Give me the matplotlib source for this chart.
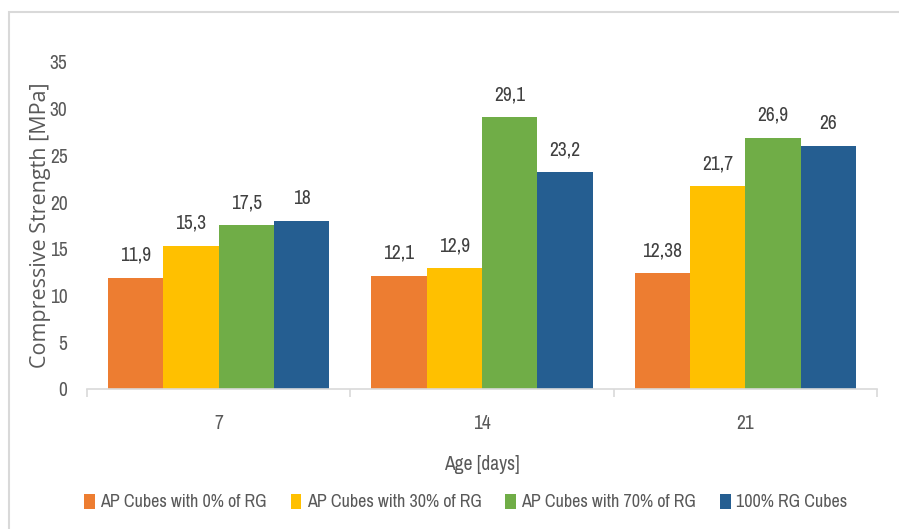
import matplotlib
matplotlib.use("Agg")
import matplotlib.pyplot as plt
import numpy as np
from matplotlib.patches import Rectangle
from matplotlib import font_manager

# prefer a narrow face for the chart text when one is installed
available = {f.name for f in font_manager.fontManager.ttflist}
narrow_faces = sorted(n for n in available
                      if "Narrow" in n or "Condensed" in n)
if narrow_faces:
    base_family = [narrow_faces[0], "DejaVu Sans"]
    size = 14
else:
    base_family = ["Liberation Sans", "DejaVu Sans"]
    size = 11

plt.rcParams['font.family'] = base_family

ages = ["7", "14", "21"]
series_names = ["AP Cubes with 0% of RG", "AP Cubes with 30% of RG",
                "AP Cubes with 70% of RG", "100% RG Cubes"]
values_0 = [11.9, 12.1, 12.38]
values_30 = [15.3, 12.9, 21.7]
values_70 = [17.5, 29.1, 26.9]
values_100 = [18.0, 23.2, 26.0]
value_labels = [["11,9", "12,1", "12,38"],
                ["15,3", "12,9", "21,7"],
                ["17,5", "29,1", "26,9"],
                ["18", "23,2", "26"]]
colors = ["#ED7D31", "#FFC000", "#70AD47", "#255E91"]
y_ticks = [0, 5, 10, 15, 20, 25, 30, 35]

text_color = "#595959"
fig = plt.figure(figsize=(8.99, 5.29), dpi=100)
fig.patches.append(Rectangle((9 / 899, -0.1), 1.2, 1 - 12 / 529 + 0.1,
                             transform=fig.transFigure, fill=False,
                             edgecolor="#D9D9D9", linewidth=1.5))

ax = fig.add_axes([0.0968, 0.2647, 0.8787, 0.6181])
series = [values_0, values_30, values_70, values_100]
x = np.arange(len(ages))
width = 0.21
for i, (vals, col, name) in enumerate(zip(series, colors, series_names)):
    pos = x + (i - 1.5) * width
    ax.bar(pos, vals, width=width, color=col, label=name, linewidth=0)
    for p, v, lab in zip(pos, vals, value_labels[i]):
        ax.text(p, v + 1.4, lab, ha="center", va="bottom", fontsize=size,
                color="#404040")

ax.set_xlim(-0.5, 2.5)
ax.set_ylim(0, 35)
ax.set_yticks(y_ticks)
ax.set_yticklabels([str(t) for t in y_ticks], fontsize=size, color=text_color)
ax.set_xticks(x)
ax.set_xticklabels(ages, fontsize=size, color=text_color)
ax.tick_params(axis="y", length=0, pad=14)
ax.tick_params(axis="x", length=0, pad=18)
# group separator ticks along the category axis
ax.set_xticks([-0.5, 0.5, 1.5, 2.5], minor=True)
ax.tick_params(axis="x", which="minor", length=6, color="#D9D9D9", width=1.2)

for s in ["top", "right", "left"]:
    ax.spines[s].set_visible(False)
ax.spines["bottom"].set_color("#D9D9D9")
ax.spines["bottom"].set_linewidth(1.2)

ax.set_xlabel("Age [days]", fontsize=size, color=text_color, labelpad=16)
ax.set_ylabel("Compressive Strength [MPa]", fontsize=15.5, color=text_color,
              family=["Open Sans", "DejaVu Sans"], labelpad=-1)

leg = fig.legend(loc="center", bbox_to_anchor=(0.518, 0.051), ncol=4,
                 frameon=False, fontsize=size - 1, handlelength=0.6,
                 handleheight=0.9, handletextpad=0.3, columnspacing=1.3)
for t in leg.get_texts():
    t.set_color(text_color)

fig.savefig("out.png", dpi=100)
